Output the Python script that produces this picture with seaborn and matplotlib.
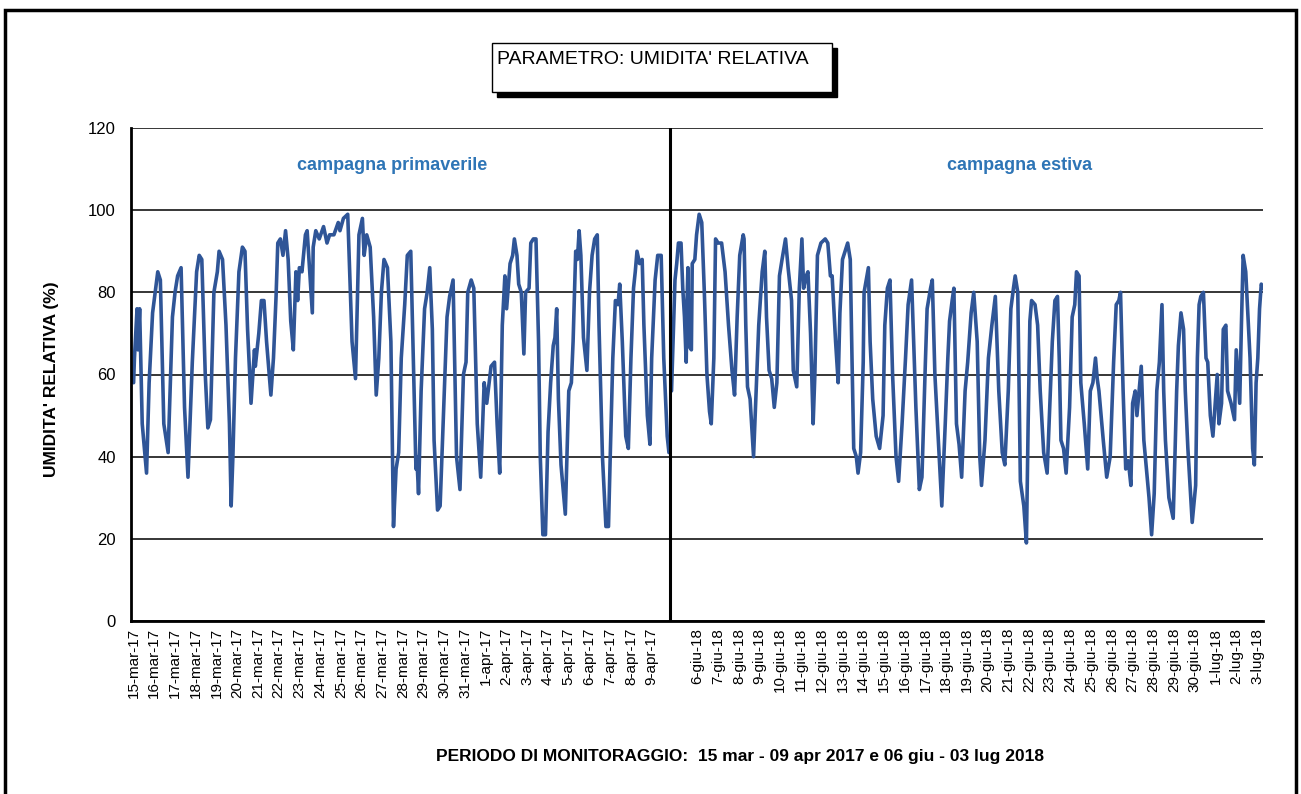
import numpy as np
import pandas as pd
import matplotlib
matplotlib.use("Agg")
import matplotlib.pyplot as plt
import seaborn as sns
from matplotlib.patches import Rectangle

# 1. Dati (umidita' relativa %)
# campagna primaverile: ore dal 15-mar-17 00:00
spring_hours = [0, 1, 4, 5, 7, 10, 15, 18, 22, 25, 28, 31, 35, 40, 45, 48, 51, 55, 59, 63,
                68, 71, 73, 76, 79, 83, 86, 89, 93, 97, 99, 103, 107, 111, 113, 115, 118, 122, 126, 129,
                132, 136, 140, 141, 145, 148, 151, 154, 159, 162, 165, 167, 170, 173, 176, 179, 182, 185, 188, 190,
                192, 195, 199, 201, 204, 207, 208, 211, 215, 220, 224, 227, 232, 237, 239, 243, 248, 251, 253, 257,
                261, 265, 267, 270, 274, 278, 281, 284, 287, 290, 294, 298, 301, 304, 307, 310, 314, 317, 321, 324,
                327, 328, 330, 333, 337, 340, 343, 346, 348, 352, 355, 359, 363, 366, 370, 374, 378, 382, 385, 387,
                391, 394, 398, 402, 406, 409, 414, 418, 421, 424, 427, 430, 432, 436, 439, 441, 444, 446, 449, 452,
                454, 458, 460, 463, 466, 469, 471, 474, 477, 480, 483, 486, 488, 490, 492, 495, 500, 504, 507, 509,
                512, 514, 516, 518, 521, 525, 528, 531, 534, 537, 539, 543, 547, 550, 552, 555, 558, 561, 563, 566,
                570, 573, 576, 579, 581, 583, 586, 589, 591, 595, 598, 600, 604, 607, 611, 614, 618, 620]
spring_rh = [58, 64, 76, 66, 76, 48, 36, 58, 75, 80, 85, 83, 48, 41, 74, 80, 84, 86, 52, 35,
             63, 76, 85, 89, 88, 60, 47, 49, 80, 85, 90, 88, 72, 48, 28, 40, 64, 85, 91, 90,
             71, 53, 66, 62, 70, 78, 78, 68, 55, 64, 79, 92, 93, 89, 95, 88, 73, 66, 85, 78,
             86, 85, 94, 95, 85, 75, 91, 95, 93, 96, 92, 94, 94, 97, 95, 98, 99, 80, 68, 59,
             94, 98, 89, 94, 91, 74, 55, 64, 80, 88, 86, 68, 23, 37, 41, 64, 77, 89, 90, 64,
             37, 40, 31, 56, 76, 80, 86, 71, 44, 27, 28, 51, 74, 79, 83, 40, 32, 60, 63, 80,
             83, 81, 48, 35, 58, 53, 62, 63, 48, 36, 72, 84, 76, 87, 89, 93, 89, 82, 80, 65,
             80, 81, 92, 93, 93, 68, 40, 21, 21, 46, 58, 67, 69, 76, 54, 38, 26, 56, 58, 68,
             90, 88, 95, 89, 69, 61, 80, 89, 93, 94, 72, 40, 23, 23, 40, 64, 78, 77, 82, 68,
             45, 42, 64, 81, 85, 90, 87, 88, 72, 50, 43, 64, 83, 89, 89, 64, 45, 41]

# campagna estiva: ore rispetto al 6-giu-18 00:00
summer_hours = [-30, -26, -24, -22, -19, -17, -15, -13, -12, -11, -10, -7, -6, -3, -1, 2, 5, 8, 11, 14,
                16, 19, 21, 24, 28, 32, 36, 40, 43, 46, 49, 53, 54, 56, 58, 61, 65, 68, 71, 75,
                78, 80, 83, 86, 89, 92, 95, 98, 102, 105, 109, 111, 115, 118, 121, 123, 126, 128, 131, 134,
                136, 139, 143, 148, 151, 154, 156, 160, 163, 165, 168, 171, 174, 177, 179, 181, 184, 186, 189, 192,
                193, 198, 200, 203, 207, 211, 215, 217, 220, 223, 226, 230, 233, 237, 241, 244, 248, 253, 257, 260,
                264, 266, 270, 272, 275, 279, 283, 287, 290, 292, 295, 297, 300, 303, 306, 310, 313, 317, 320, 324,
                327, 329, 333, 337, 341, 345, 349, 353, 356, 360, 363, 366, 368, 371, 374, 378, 381, 383, 385, 387,
                391, 394, 397, 401, 405, 408, 411, 414, 417, 419, 421, 424, 427, 431, 434, 437, 439, 442, 444, 448,
                452, 455, 458, 461, 463, 465, 470, 474, 478, 482, 485, 488, 490, 493, 496, 499, 502, 504, 507, 509,
                514, 517, 520, 523, 526, 529, 532, 535, 538, 540, 542, 546, 551, 553, 555, 557, 560, 563, 565, 568,
                571, 573, 577, 579, 581, 583, 586, 589, 591, 594, 597, 602, 604, 607, 609, 612, 614, 618, 622, 624,
                628, 630, 632, 635, 640, 643, 645, 647, 649, 651, 653, 655]
summer_rh = [56, 83, 87, 92, 92, 81, 74, 63, 78, 86, 67, 66, 87, 88, 94, 99, 97, 80, 60, 51,
             48, 64, 93, 92, 92, 85, 72, 61, 55, 74, 89, 94, 93, 72, 57, 54, 40, 56, 72, 85,
             90, 74, 61, 59, 52, 58, 84, 88, 93, 86, 78, 61, 57, 81, 93, 81, 84, 85, 70, 48,
             60, 89, 92, 93, 92, 84, 84, 68, 58, 75, 88, 90, 92, 88, 64, 42, 40, 36, 41, 63,
             80, 86, 68, 54, 45, 42, 50, 72, 81, 83, 60, 40, 34, 48, 64, 77, 83, 52, 32, 35,
             63, 76, 81, 83, 60, 44, 28, 48, 64, 73, 78, 81, 48, 43, 35, 56, 63, 75, 80, 68,
             40, 33, 44, 64, 72, 79, 56, 41, 38, 56, 76, 81, 84, 80, 34, 28, 19, 48, 73, 78,
             77, 72, 56, 41, 36, 52, 68, 78, 79, 64, 44, 42, 36, 52, 74, 77, 85, 84, 58, 48,
             37, 56, 58, 64, 59, 56, 44, 35, 40, 63, 77, 78, 80, 56, 37, 39, 33, 53, 56, 50,
             62, 44, 37, 30, 21, 31, 56, 63, 77, 56, 44, 30, 25, 40, 56, 67, 75, 71, 56, 42,
             31, 24, 33, 64, 77, 79, 80, 64, 63, 50, 45, 60, 48, 53, 71, 72, 56, 53, 49, 66,
             53, 72, 89, 85, 64, 42, 38, 58, 64, 76, 82, 81]

# etichette dell'asse x (una per giorno)
spring_labels = [f"{d}-mar-17" for d in range(15, 32)] + [f"{d}-apr-17" for d in range(1, 10)]
summer_labels = [f"{d}-giu-18" for d in range(6, 31)] + [f"{d}-lug-18" for d in range(1, 4)]

SUMMER_START = 653   # posizione (ore) del 6-giu-18 sull'asse
SPLIT = 621          # linea di separazione delle due campagne

df_spring = pd.DataFrame({"ora": spring_hours, "ur": spring_rh})
df_summer = pd.DataFrame({"ora": np.array(summer_hours) + SUMMER_START, "ur": summer_rh})

ticks = [24 * i for i in range(len(spring_labels))] + \
        [SUMMER_START + 24 * i for i in range(len(summer_labels))]
labels = spring_labels + summer_labels

# 2. Grafico
sns.set_style("white")
plt.rcParams["font.family"] = ["Liberation Sans", "DejaVu Sans"]
for key in ["text.color", "axes.labelcolor", "xtick.color", "ytick.color"]:
    plt.rcParams[key] = "black"

W, H = 1301, 794
fig = plt.figure(figsize=(W / 100, H / 100), dpi=100)
ax = fig.add_axes([131 / W, 1 - 621 / H, (1263 - 131) / W, (621 - 128) / H])

line_color = "#2F5597"
sns.lineplot(data=df_spring, x="ora", y="ur", color=line_color, lw=2.6, estimator=None, ax=ax)
sns.lineplot(data=df_summer, x="ora", y="ur", color=line_color, lw=2.6, estimator=None, ax=ax)
ax.axvline(SPLIT, color="black", lw=2.2, zorder=5)

ax.set_xlim(-3, 1308)
ax.set_ylim(0, 120)
ax.set_yticks(range(0, 121, 20))
ax.set_xticks(ticks)
ax.set_xticklabels(labels, rotation=90, fontsize=11)
ax.tick_params(axis="x", length=0, pad=5, colors="black")
ax.tick_params(axis="y", length=4, width=1, colors="black", labelsize=12, pad=7, direction="out")
ax.grid(axis="y", color="black", lw=1.1)
ax.grid(axis="x", visible=False)
ax.set_axisbelow(True)
ax.set_xlabel("")
ax.set_ylabel("")

for side in ["top", "right"]:
    ax.spines[side].set_visible(False)
for side in ["left", "bottom"]:
    ax.spines[side].set_color("black")
    ax.spines[side].set_linewidth(2)

# testi
fig.text(52 / W, 1 - 379 / H, "UMIDITA' RELATIVA (%)", rotation=90, ha="center", va="center",
         fontsize=12.5, fontweight="bold", color="black")
fig.text(740 / W, 1 - 757 / H, "PERIODO DI MONITORAGGIO:  15 mar - 09 apr 2017 e 06 giu - 03 lug 2018",
         ha="center", va="center", fontsize=12.5, fontweight="bold", color="black")
fig.text(392 / W, 1 - 165 / H, "campagna primaverile", ha="center", va="center",
         fontsize=13, fontweight="bold", color="#2E75B6")
fig.text(1020 / W, 1 - 165 / H, "campagna estiva", ha="center", va="center",
         fontsize=13, fontweight="bold", color="#2E75B6")

# riquadro del titolo con ombra
bx, by, bw, bh = 491.7, 42.7, 340, 49
fig.patches.append(Rectangle(((bx + 5) / W, 1 - (by + bh + 5) / H), bw / W, bh / H,
                             transform=fig.transFigure, facecolor="black", edgecolor="black", zorder=1))
fig.patches.append(Rectangle((bx / W, 1 - (by + bh) / H), bw / W, bh / H,
                             transform=fig.transFigure, facecolor="white", edgecolor="black", lw=1, zorder=2))
fig.text(497 / W, 1 - 60 / H, "PARAMETRO: UMIDITA' RELATIVA", ha="left", va="center",
         fontsize=14, color="black", zorder=3)

# cornice esterna
fig.patches.append(Rectangle((5 / W, -0.02), 1291 / W, 1 - 10 / H + 0.02, transform=fig.transFigure,
                             fill=False, edgecolor="black", lw=2.5))

fig.savefig("out.png", dpi=100)
